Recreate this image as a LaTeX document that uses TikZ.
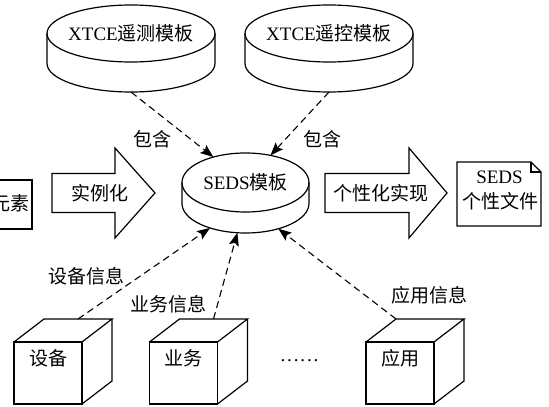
\documentclass[tikz,border=0pt]{standalone}
\usepackage{fontspec}
\setmainfont{Liberation Serif}
\newfontfamily\cjk{Noto Sans CJK SC}
\usetikzlibrary{shapes.geometric,arrows.meta}
\tikzset{
  every node/.style={font=\fontsize{19}{22}\selectfont, inner sep=0pt, outer sep=0pt},
  shapeline/.style={line width=1.2pt, line join=miter},
  bigell/.style={ellipse, draw, line width=1.2pt, minimum width=168pt, minimum height=57pt},
  bigellhidden/.style={ellipse, minimum width=168pt, minimum height=57pt},
  sedsell/.style={ellipse, draw, line width=1.2pt, minimum width=127pt, minimum height=59pt},
  sedsellhidden/.style={ellipse, minimum width=127pt, minimum height=59pt},
  conn/.style={line width=1.1pt, dash pattern=on 7pt off 4.5pt, -{Stealth[length=13pt,width=10pt,inset=2.5pt]}},
  pics/databox/.style={code={
    \node[draw, line width=1.2pt, minimum width=68pt, minimum height=62pt, anchor=north west] (-front) at (0,0) {};
    \draw[shapeline] (0,0) -- (30,23) -- (98,23) -- (68,0);
    \draw[shapeline] (98,23) -- (98,-39) -- (68,-62);
    \coordinate (-backmid) at (64,23);
    \coordinate (-backleft) at (30,23);
  }}
}
\begin{document}
\begin{tikzpicture}[x=1pt,y=1pt]
\useasboundingbox (0,0) rectangle (549,407);
\clip (0,0) rectangle (549,407);

% XTCE cylinders
\node[bigell] (tm) at (131,373.5) {};
\node[bigellhidden] (tmb) at (131,343.5) {};
\draw[shapeline] (tm.west) -- (tmb.west) arc[start angle=180, end angle=360, x radius=84, y radius=28.5] -- (tm.east);
\node (tmt) at (131,374) {XTCE{\cjk 遥测模板}};

\node[bigell] (tc) at (329,373.5) {};
\node[bigellhidden] (tcb) at (329,343.5) {};
\draw[shapeline] (tc.west) -- (tcb.west) arc[start angle=180, end angle=360, x radius=84, y radius=28.5] -- (tc.east);
\node (tct) at (329,374) {XTCE{\cjk 遥控模板}};

% SEDS cylinder
\node[sedsell] (seds) at (245.5,224.5) {};
\node[sedsellhidden] (sedsb) at (245.5,203.5) {};
\draw[shapeline] (seds.west) -- (sedsb.west) arc[start angle=180, end angle=360, x radius=63.5, y radius=29.5] -- (seds.east);
\node (sedst) at (245.5,225) {SEDS{\cjk 模板}};

% left element box (cut by the border, as in the reference)
\draw[shapeline] (-10,227) -- (32,227) -- (32,178) -- (-10,178);
\node[anchor=east] (elem) at (29,204) {\cjk 元素};

% block arrows
\draw[shapeline] (52,233.5) -- (115,233.5) -- (115,259) -- (155,214) -- (115,169) -- (115,194.5) -- (52,194.5) -- cycle;
\node (inst) at (100,214) {\cjk 实例化};
\draw[shapeline] (325,233.5) -- (409,233.5) -- (409,259) -- (447,214) -- (409,169) -- (409,194.5) -- (325,194.5) -- cycle;
\node (pers) at (381,214) {\cjk 个性化实现};

% document
\draw[shapeline] (457,245) -- (531,245) -- (541,235) -- (541,181) -- (457,181) -- cycle;
\draw[shapeline] (531,245) -- (531,235) -- (541,235);
\node (doc1) at (499.5,230) {SEDS};
\node (doc2) at (500,206) {\cjk 个性文件};

% cubes
\pic (dev) at (14,65) {databox};
\pic (biz) at (149.5,65) {databox};
\pic (app) at (366,65) {databox};
\node (devt) at (48,49) {\cjk 设备};
\node (bizt) at (183,49) {\cjk 业务};
\node (appt) at (400,49) {\cjk 应用};
\node (dots) at (299.5,46) {.\kern1.9pt.\kern1.9pt.\kern1.9pt.\kern1.9pt.\kern1.9pt.};

% connectors
\draw[conn] (tmb.south) -- (seds);
\draw[conn] (tcb.south) -- (seds);
\draw[conn] (dev-backmid) -- (sedsb);
\draw[conn] (biz-backmid) -- (sedsb);
\draw[conn] (app-backleft) -- (sedsb);

% labels
\node (inc1) at (152,268) {\cjk 包含};
\node (inc2) at (322,268) {\cjk 包含};
\node (devinfo) at (86,131) {\cjk 设备信息};
\node (bizinfo) at (168,103) {\cjk 业务信息};
\node (appinfo) at (429,112) {\cjk 应用信息};
\end{tikzpicture}
\end{document}
